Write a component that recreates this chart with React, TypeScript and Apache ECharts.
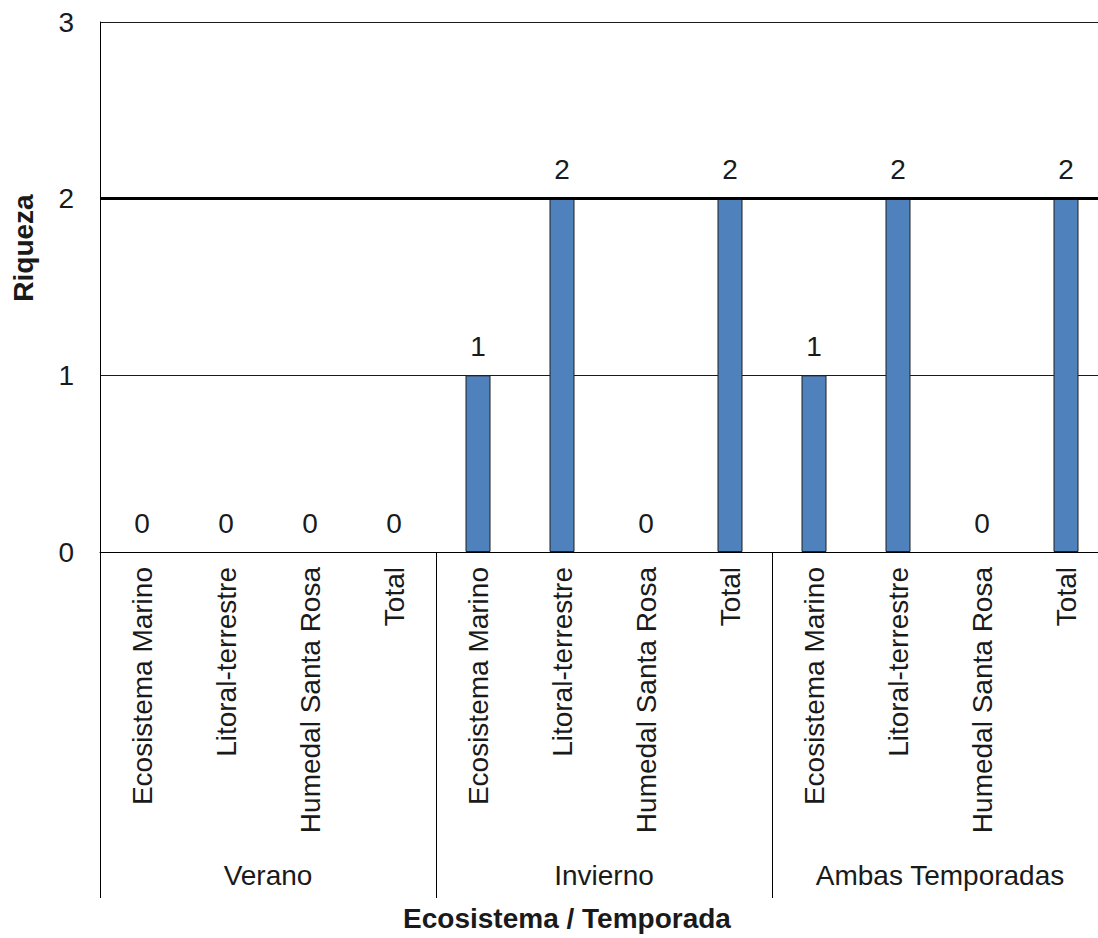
import React, { useEffect, useRef } from "react";
import * as echarts from "echarts";

// Ecosystem categories repeated within each season
const ecosystems = [
  "Ecosistema Marino",
  "Litoral-terrestre",
  "Humedal Santa Rosa",
  "Total",
];
const seasons = ["Verano", "Invierno", "Ambas Temporadas"];

// Species richness per ecosystem, one list per season
const verano = [0, 0, 0, 0];
const invierno = [1, 2, 0, 2];
const ambas = [1, 2, 0, 2];

const yTicks = { min: 0, max: 3, interval: 1 };

const FONT = "'Liberation Sans', Arial, sans-serif";
const TEXT = "#1a1a1a";

export default function App() {
  const ref = useRef<HTMLDivElement>(null);

  useEffect(() => {
    if (!ref.current) return;
    const chart = echarts.init(ref.current, undefined, { renderer: "svg" });

    const categories = seasons.flatMap(() => ecosystems);
    const values = [...verano, ...invierno, ...ambas];
    // zero-height bars get no outline so only the label remains
    const barData = values.map((v) => ({
      value: v,
      itemStyle: { borderWidth: v === 0 ? 0 : 1 },
    }));

    chart.setOption({
      animation: false,
      backgroundColor: "#ffffff",
      grid: { left: 100, top: 22, width: 1008, height: 530 },
      xAxis: [
        {
          type: "category",
          data: categories,
          position: "bottom",
          axisLine: { show: true, lineStyle: { color: "#000", width: 1 } },
          axisTick: { show: false },
          axisLabel: {
            interval: 0,
            rotate: 90,
            margin: 15,
            fontSize: 28,
            fontFamily: FONT,
            color: TEXT,
          },
        },
        {
          type: "category",
          data: seasons,
          position: "bottom",
          offset: 0,
          axisLine: { show: false },
          axisTick: {
            show: true,
            interval: 0,
            length: 346,
            lineStyle: { color: "#000", width: 1 },
          },
          axisLabel: {
            interval: 0,
            margin: 309,
            fontSize: 28,
            fontFamily: FONT,
            color: TEXT,
          },
          splitLine: { show: false },
        },
      ],
      yAxis: {
        type: "value",
        min: yTicks.min,
        max: yTicks.max,
        interval: yTicks.interval,
        axisLine: { show: true, lineStyle: { color: "#000", width: 1 } },
        axisTick: { show: false },
        axisLabel: {
          margin: 26,
          fontSize: 28,
          fontFamily: FONT,
          color: TEXT,
        },
        splitLine: { show: true, lineStyle: { color: "#1a1a1a", width: 1 } },
      },
      series: [
        {
          type: "bar",
          xAxisIndex: 0,
          data: barData,
          barWidth: 25,
          itemStyle: {
            color: "#4F81BD",
            borderColor: "#1f1f1f",
            borderWidth: 1,
          },
          label: {
            show: true,
            position: "top",
            distance: 15,
            fontSize: 28,
            fontFamily: FONT,
            color: TEXT,
          },
          markLine: {
            silent: true,
            symbol: "none",
            label: { show: false },
            lineStyle: { color: "#000", width: 3, type: "solid" },
            data: [{ yAxis: 2 }],
          },
        },
      ],
      graphic: [
        {
          type: "text",
          x: 23,
          y: 248,
          rotation: Math.PI / 2,
          style: {
            text: "Riqueza",
            font: `bold 28px ${FONT}`,
            fill: TEXT,
            align: "center",
            verticalAlign: "middle",
          },
        },
        {
          type: "text",
          x: 567,
          y: 918,
          style: {
            text: "Ecosistema / Temporada",
            font: `bold 28px ${FONT}`,
            fill: TEXT,
            align: "center",
            verticalAlign: "middle",
          },
        },
      ],
    });

    return () => chart.dispose();
  }, []);

  return (
    <div
      style={{
        position: "fixed",
        left: 0,
        top: 0,
        width: 1098,
        height: 938,
        overflow: "hidden",
        background: "#fff",
      }}
    >
      <div ref={ref} style={{ width: 1110, height: 938 }} />
    </div>
  );
}
